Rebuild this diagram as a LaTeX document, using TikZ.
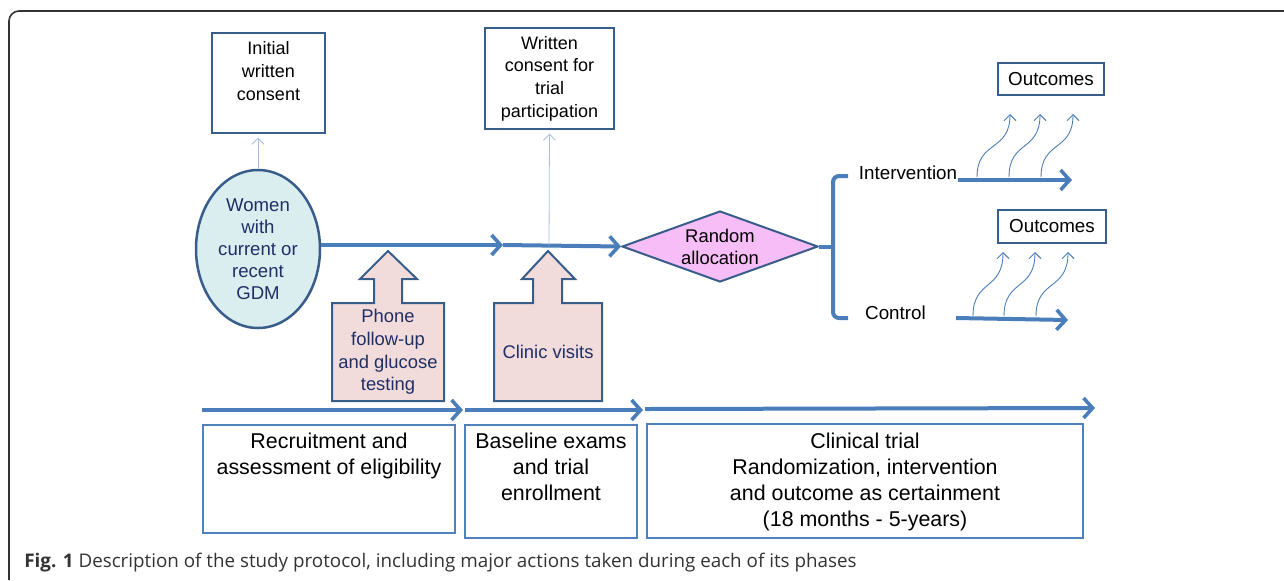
\documentclass[tikz,border=0pt]{standalone}
\usepackage{fontspec}
\setmainfont{Liberation Sans}
\newfontfamily\capfont{Open Sans}
\usetikzlibrary{arrows.meta,shapes.geometric}
\definecolor{mainblue}{HTML}{4A7EBB}
\definecolor{edgeblue}{HTML}{385D8A}
\definecolor{boxblue}{HTML}{4F81BD}
\definecolor{navytext}{HTML}{1F2F66}
\definecolor{cyanfill}{HTML}{DAEEF0}
\definecolor{pinkfill}{HTML}{F2DCDB}
\definecolor{violetfill}{HTML}{F7BDF7}
\definecolor{thinblue}{HTML}{A7C0DE}
\definecolor{curlblue}{HTML}{4A7EBB}
\definecolor{framegray}{HTML}{333333}
\definecolor{captext}{HTML}{333333}
\tikzset{
  txt/.style={font=\fontsize{9}{11.3}\selectfont, align=center, inner sep=0pt},
  bigtxt/.style={font=\fontsize{10.7}{13}\selectfont, align=center, inner sep=0pt, anchor=north},
  topbox/.style={draw=edgeblue, line width=0.7pt, inner sep=0pt},
  phasebox/.style={draw=boxblue, line width=0.8pt, inner sep=0pt},
  thick arrow/.style={draw=mainblue, line width=2pt, -{Straight Barb[length=4.5pt,width=10pt,line width=1.8pt]}},
  thin arrow/.style={draw=thinblue, line width=0.4pt, -{Straight Barb[length=3pt,width=6pt]}},
  curl/.style={draw=curlblue, line width=0.45pt, -{Straight Barb[length=3pt,width=6pt]}},
  blockarrow/.style={draw=edgeblue, fill=pinkfill, line width=1pt, line join=miter},
}
\begin{document}
\begin{tikzpicture}[x=0.5pt,y=-0.5pt]
\useasboundingbox (0,0) rectangle (1284,580);
% outer frame
\draw[framegray, line width=0.8pt, rounded corners=5pt] (1284,11) -- (9,11) -- (9,580);

% consent boxes
\node[topbox, minimum width=56.5pt, minimum height=50pt] (c1) at (268.5,83) {};
\node[txt, anchor=north] (c1t) at (268.5,41.5) {Initial\\written\\consent};
\node[topbox, minimum width=64.5pt, minimum height=50.5pt] (c2) at (549.5,78.5) {};
\node[txt] (c2t) at (549.5,78.5) {Written\\consent for\\trial\\participation};

% women ellipse
\node[ellipse, draw=edgeblue, fill=cyanfill, line width=1.25pt, minimum width=62pt, minimum height=79pt, inner sep=0pt,
      text=navytext, font=\fontsize{9.3}{11}\selectfont, align=center] (women) at (258,249)
      {Women\\with\\current or\\recent\\GDM};

% diamond
\node[diamond, draw=edgeblue, fill=violetfill, line width=1pt, aspect=2.76, minimum width=98pt, minimum height=35.5pt,
      inner sep=0pt, font=\fontsize{9.2}{11}\selectfont, align=center] (rand) at (720,246.5) {Random\\allocation};

% main line
\coordinate (m1) at (503,245);
\coordinate (m2) at (549,245.5);
\draw[thick arrow] (women.east |- 0,245) -- (m1);
\draw[thick arrow] (m1) -- (rand.west);

% thin arrows to consents
\draw[thin arrow, shorten >=2pt] (women.north) -- (women.north |- c1.south);
\draw[thin arrow, shorten >=2pt] (m2) -- (c2.south);

% block arrows
\draw[blockarrow] (332,303) -- (374,303) -- (374,279) -- (360,279) -- (388,251) -- (417,279) -- (402,279) -- (402,303)
  -- (444,303) -- (444,401) -- (332,401) -- cycle;
\node[txt, text=navytext, font=\fontsize{9.2}{11.3}\selectfont] (phone) at (388,352) {Phone\\follow-up\\and glucose\\testing};
\draw[blockarrow] (494,303) -- (533,303) -- (533,279) -- (522,279) -- (548,251) -- (575,279) -- (562,279) -- (562,303)
  -- (602,303) -- (602,401) -- (494,401) -- cycle;
\node[txt, text=navytext, font=\fontsize{9.2}{11.3}\selectfont] (clinic) at (548,352) {Clinic visits};

% bracket
\coordinate (br) at (833,246.5);
\coordinate (brt) at (848,176);
\coordinate (brb) at (848,318);
\draw[mainblue, line width=2pt] (rand.east) -- (br);
\draw[mainblue, line width=2pt, rounded corners=3pt] (brt) -- (833,176) -- (833,318) -- (brb);

\node[txt, font=\fontsize{9.4}{11}\selectfont] (interv) at (908,173) {Intervention};
\node[txt, font=\fontsize{9.4}{11}\selectfont] (control) at (895.5,313) {Control};

\coordinate (ie) at (1072,180);
\coordinate (ce) at (1068,320);
\draw[thick arrow] (interv.east |- 0,180) -- (ie);
\draw[thick arrow] (956,318) -- (ce);

% outcomes
\node[topbox, minimum width=53pt, minimum height=16pt, font=\fontsize{9.4}{11}\selectfont] (o1) at (1051,79) {Outcomes};
\node[topbox, minimum width=54pt, minimum height=16.5pt, font=\fontsize{9.4}{11}\selectfont] (o2) at (1052,226.5) {Outcomes};

% curls - intervention
\foreach \x/\t in {977/1010, 1009/1040, 1041/1073}{
  \draw[curl] (\x,177) .. controls (\x,140) and (\t,152) .. (\t,114);
}
% curls - control
\foreach \x/\t in {973/1003, 1004/1035, 1036/1068}{
  \draw[curl] (\x,316) .. controls (\x,279) and (\t,291) .. (\t,252);
}

% bottom arrows
\coordinate (a0) at (202,410);
\coordinate (a1) at (463,410);
\coordinate (a1s) at (465,410);
\coordinate (a2) at (643,410);
\coordinate (a2s) at (645,409);
\coordinate (a3) at (1095,408);
\draw[thick arrow] (a0) -- (a1);
\draw[thick arrow] (a1s) -- (a2);
\draw[thick arrow] (a2s) -- (a3);

% phase boxes
\node[phasebox, minimum width=126pt, minimum height=54pt] (b1) at (329,479) {};
\node[bigtxt] (b1t) at (329,433) {Recruitment and\\assessment of eligibility};
\node[phasebox, minimum width=86pt, minimum height=56.5pt] (b2) at (551,481.5) {};
\node[bigtxt] (b2t) at (551,433) {Baseline exams\\and trial\\enrollment};
\node[phasebox, minimum width=218pt, minimum height=57pt] (b3) at (865,481) {};
\node[bigtxt] (b3t) at (865,433) {Clinical trial\\Randomization, intervention\\and outcome as certainment\\(18 months - 5-years)};

% caption
\node[anchor=base west, inner sep=0pt, text=captext, font=\capfont\fontsize{9.4}{11}\selectfont] (cap) at (24,567)
  {\textbf{Fig. 1} Description of the study protocol, including major actions taken during each of its phases};
\end{tikzpicture}
\end{document}
